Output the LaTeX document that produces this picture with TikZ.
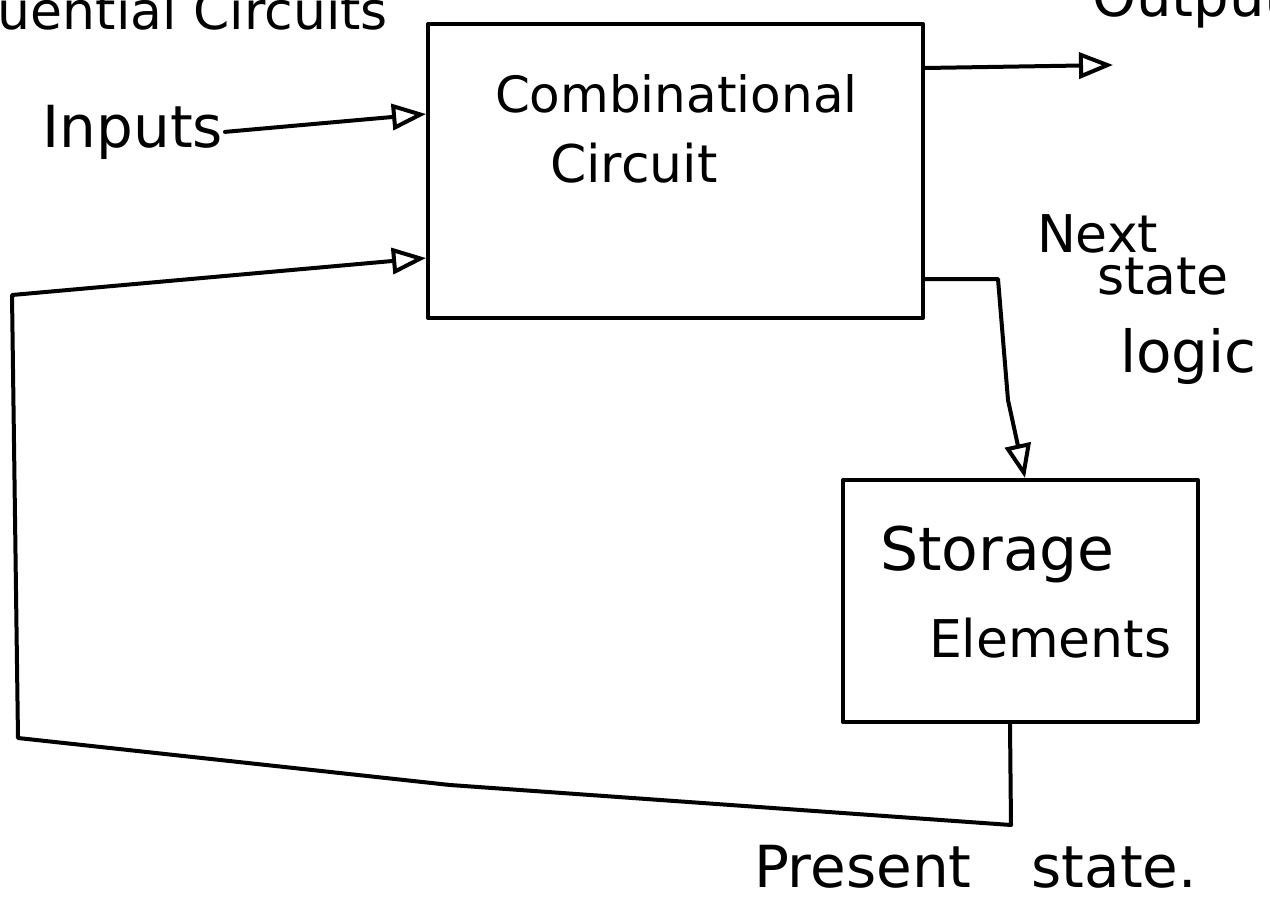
\documentclass[tikz,border=0pt]{standalone}
\usepackage{fontspec}
\setmainfont{DejaVu Sans}
\usetikzlibrary{arrows.meta}
\newcommand{\hwsize}[1]{\fontsize{#1}{#1}\selectfont}
\begin{document}
\begin{tikzpicture}[x=1pt,y=-1pt,
  line width=4pt, line join=round, line cap=round,
  boxnode/.style={draw, rectangle, inner sep=0pt, line width=4pt},
  txt/.style={inner sep=0pt, font=\hwsize{52pt}},
  arr/.style={line width=4pt, -{Triangle[open,length=34pt,width=26pt,line width=4pt]}}]
\useasboundingbox (0,0) rectangle (1270,899);
\clip (0,0) rectangle (1270,899);
% boxes
\node[boxnode, minimum width=495pt, minimum height=294pt] (comb) at (675.5,171) {};
\node[boxnode, minimum width=355pt, minimum height=242pt] (stor) at (1020.5,601) {};
% texts
\node[txt, anchor=base east] (title) at (390,30) {Sequential Circuits};
\node[txt, anchor=base west, font=\hwsize{56pt}] (outputs) at (1090,17) {Outputs};
\node[txt, anchor=base east, font=\hwsize{58pt}] (inputs) at (225,147) {Inputs};
\node[txt, anchor=base west, font=\hwsize{50pt}] (combA) at (493,113) {Combinational};
\node[txt, anchor=base west, font=\hwsize{52pt}] (combB) at (548,182) {Circuit};
\node[txt, anchor=base west, font=\hwsize{60pt}] (storA) at (878,570) {Storage};
\node[txt, anchor=base west, font=\hwsize{52pt}] (storB) at (927,657) {Elements};
\node[txt, anchor=base west, font=\hwsize{52pt}] (nslA) at (1035,252) {Next};
\node[txt, anchor=base west, font=\hwsize{52pt}] (nslB) at (1095,294) {state};
\node[txt, anchor=base west, font=\hwsize{58pt}] (nslC) at (1118,372) {logic};
\node[txt, anchor=base west, font=\hwsize{58pt}] (present) at (752,887) {Present\hspace{60pt}state.};
% helper coordinates
\coordinate (inY) at (0,114);
\coordinate (outS) at (0,68);
\coordinate (outEnd) at (1113,65);
\coordinate (nsA) at (998,279);
\coordinate (nsB) at (1008,400);
\coordinate (nsX) at (1025,0);
\coordinate (fbX) at (1010,0);
\coordinate (fbA) at (1011,825);
\coordinate (fbB) at (450,785);
\coordinate (fbC) at (18,738);
\coordinate (fbD) at (12,295);
\coordinate (fbY) at (0,258);
% connectors
\draw[arr] (inputs.east) -- (comb.west |- inY);
\draw[arr] (comb.east |- outS) -- (outEnd);
\draw[arr] (comb.east |- nsA) -- (nsA) -- (nsB) -- (stor.north -| nsX);
\draw[arr] (stor.south -| fbX) -- (fbA) -- (fbB) -- (fbC) -- (fbD) -- (comb.west |- fbY);
\end{tikzpicture}
\end{document}
